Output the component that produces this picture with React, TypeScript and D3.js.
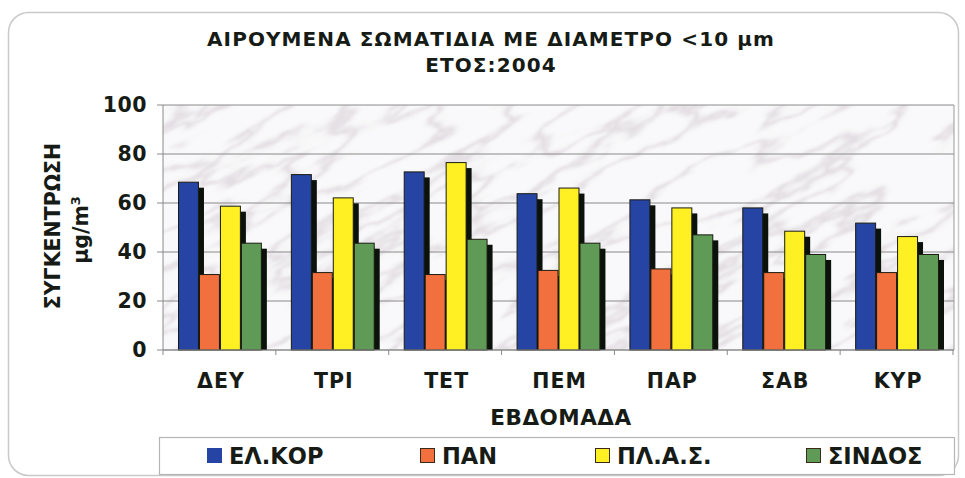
import React from "react";
import * as d3 from "d3";

// weekdays and the four monitoring stations
const days = ["ΔΕΥ", "ΤΡΙ", "ΤΕΤ", "ΠΕΜ", "ΠΑΡ", "ΣΑΒ", "ΚΥΡ"];
const stations = ["ΕΛ.ΚΟΡ", "ΠΑΝ", "ΠΛ.Α.Σ.", "ΣΙΝΔΟΣ"];

const elKor = [68.7, 71.8, 72.9, 64.0, 61.5, 58.2, 52.0];
const pan = [31.0, 31.8, 31.0, 32.7, 33.3, 31.8, 31.8];
const plas = [58.9, 62.3, 76.7, 66.3, 58.2, 48.7, 46.5];
const sindos = [43.8, 43.8, 45.4, 43.8, 47.2, 39.2, 39.2];

const yTicks = [0, 20, 40, 60, 80, 100];
const COLORS = ["#2544a4", "#f2703d", "#fff023", "#5f9b57"];
const LEGEND_X = [207, 420, 595, 806];

const FONT = "'DejaVu Sans', Verdana, sans-serif";
const INK = "#161b16";

// marble veins: light almost everywhere, dark only in a thin band of the noise
const veinTable = (lo, hi) =>
  d3.range(41).map((i) => {
    const d = Math.abs(i - 20);
    return d === 0 ? lo : d === 1 ? (lo + hi) / 2 : d === 2 ? hi - 0.03 : hi;
  }).join(" ");

const App = () => {
  const series = [elKor, pan, plas, sindos];
  const margin = { top: 105, left: 163, right: 954, bottom: 350 };

  const x0 = d3
    .scaleBand()
    .domain(days)
    .range([margin.left, margin.right])
    .paddingInner(0.257)
    .paddingOuter(0.133);

  const x1 = d3.scaleBand().domain(stations).range([0, x0.bandwidth()]).padding(0);

  const y = d3.scaleLinear().domain([0, 100]).range([margin.bottom, margin.top]);

  return (
    <svg width={965} height={478} style={{ position: "absolute", left: 0, top: 0 }}>
      <defs>
        <filter id="marble" x="0" y="0" width="100%" height="100%">
          <feTurbulence type="fractalNoise" baseFrequency="0.006 0.025" numOctaves="5" seed="3" />
          <feColorMatrix type="matrix" values="1 0 0 0 0  1 0 0 0 0  1 0 0 0 0  0 0 0 0 1" />
          <feComponentTransfer>
            <feFuncR type="table" tableValues={veinTable(0.76, 0.95)} />
            <feFuncG type="table" tableValues={veinTable(0.72, 0.945)} />
            <feFuncB type="table" tableValues={veinTable(0.76, 0.955)} />
          </feComponentTransfer>
          <feGaussianBlur stdDeviation="1.2" />
        </filter>
        <clipPath id="plotclip">
          <rect x={margin.left} y={margin.top} width={margin.right - margin.left} height={margin.bottom - margin.top} />
        </clipPath>
      </defs>

      <rect x={0} y={0} width={965} height={478} fill="#fff" />
      <rect x={8.5} y={12.5} width={950} height={463} rx={20} fill="#fff" stroke="#c9c9c9" strokeWidth={1.5} />

      {/* title */}
      <text x={491} y={46} textAnchor="middle" fontFamily={FONT} fontWeight="bold" fontSize={20} letterSpacing={1.1} fill={INK}>
        ΑΙΡΟΥΜΕΝΑ ΣΩΜΑΤΙΔΙΑ ΜΕ ΔΙΑΜΕΤΡΟ &lt;10 μm
      </text>
      <text x={491} y={72} textAnchor="middle" fontFamily={FONT} fontWeight="bold" fontSize={20} letterSpacing={1.1} fill={INK}>
        ΕΤΟΣ:2004
      </text>

      {/* plot area with marble texture */}
      <g clipPath="url(#plotclip)">
        <g transform={`rotate(-28 ${(margin.left + margin.right) / 2} ${(margin.top + margin.bottom) / 2})`}>
          <rect x={margin.left - 250} y={margin.top - 400} width={margin.right - margin.left + 500} height={margin.bottom - margin.top + 800} filter="url(#marble)" />
        </g>
      </g>

      {/* gridlines */}
      {yTicks.map((t) => (
        <g key={t}>
          <line x1={margin.left} x2={margin.right} y1={y(t)} y2={y(t)} stroke="#8a8a8a" strokeWidth={1} />
          <line x1={margin.left - 6} x2={margin.left} y1={y(t)} y2={y(t)} stroke="#8a8a8a" />
          <text x={147} y={y(t)} dy="0.36em" textAnchor="end" fontFamily={FONT} fontWeight="bold" fontSize={20.5} letterSpacing={0.5} fill={INK}>
            {t}
          </text>
        </g>
      ))}
      <line x1={margin.left} x2={margin.left} y1={margin.top} y2={margin.bottom} stroke="#8a8a8a" />
      <line x1={margin.right} x2={margin.right} y1={margin.top} y2={margin.bottom} stroke="#9a9a9a" />

      {/* category ticks */}
      {days.concat(["end"]).map((d, i) => {
        const xx = margin.left + i * x0.step();
        return <line key={d} x1={xx} x2={xx} y1={margin.bottom} y2={margin.bottom + 5} stroke="#8a8a8a" />;
      })}

      {/* bars */}
      {days.map((d, i) => (
        <g key={d}>
          {series.map((s, k) => {
            const bx = x0(d) + x1(stations[k]);
            const by = y(s[i]);
            const bw = x1.bandwidth();
            const bh = margin.bottom - by;
            return (
              <g key={k}>
                <rect x={bx + 5} y={by + 6} width={bw} height={bh - 6} fill="#0b120b" />
                <rect x={bx + 0.5} y={by + 0.5} width={bw - 1} height={bh - 0.5} fill={COLORS[k]} stroke="#1b1b10" strokeWidth={1} />
              </g>
            );
          })}
        </g>
      ))}

      <line x1={margin.left} x2={margin.right} y1={margin.bottom} y2={margin.bottom} stroke="#8a8a8a" />

      {/* category labels */}
      {days.map((d) => (
        <text key={d} x={x0(d) + x0.bandwidth() / 2 + 1} y={388} textAnchor="middle" fontFamily={FONT} fontWeight="bold" fontSize={20.5} letterSpacing={1} fill={INK}>
          {d}
        </text>
      ))}
      <text x={561} y={425} textAnchor="middle" fontFamily={FONT} fontWeight="bold" fontSize={21.5} letterSpacing={0.5} fill={INK}>
        ΕΒΔΟΜΑΔΑ
      </text>

      {/* y title */}
      <text transform="translate(60 226) rotate(-90)" textAnchor="middle" fontFamily={FONT} fontWeight="bold" fontSize={20.5} fill={INK}>
        ΣΥΓΚΕΝΤΡΩΣΗ
      </text>
      <text transform="translate(88 230) rotate(-90)" textAnchor="middle" fontFamily={FONT} fontWeight="bold" fontSize={20.5} fill={INK}>
        μg/m<tspan dy="-8" fontSize={13}>3</tspan>
      </text>

      {/* legend */}
      <rect x={159.5} y={437.5} width={795} height={37} fill="#fff" stroke="#b5b5b5" strokeWidth={1.2} />
      {stations.map((s, k) => (
        <g key={s}>
          <rect x={LEGEND_X[k] + 0.5} y={448.5} width={14} height={14} fill={COLORS[k]} stroke={k === 0 ? COLORS[k] : "#3a2a18"} strokeWidth={1} />
          <text x={LEGEND_X[k] + 22} y={464} fontFamily={FONT} fontWeight="bold" fontSize={22.5} fill={INK}>
            {s}
          </text>
        </g>
      ))}
    </svg>
  );
};

export default App;
